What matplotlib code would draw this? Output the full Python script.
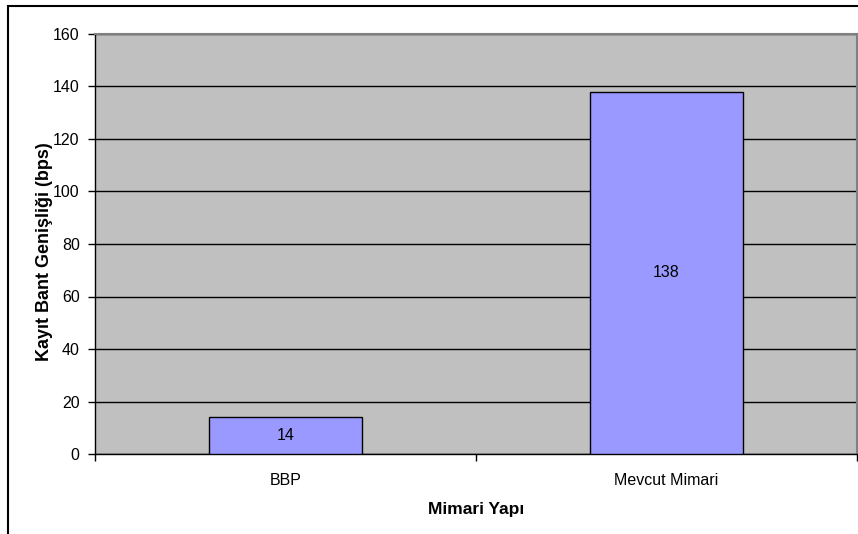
import matplotlib
matplotlib.use("Agg")
import matplotlib.pyplot as plt
from matplotlib.patches import Rectangle

categories = ["BBP", "Mevcut Mimari"]
values = [14, 138]
yticks = [0, 20, 40, 60, 80, 100, 120, 140, 160]

plt.rcParams['font.family'] = ['Liberation Sans', 'DejaVu Sans']

W, H = 858, 534
fig = plt.figure(figsize=(W/100, H/100), dpi=100)
fig.patch.set_facecolor('white')

# figure frame (partially cropped in reference)
fig.add_artist(Rectangle((8/W, -0.1), 1.2, (H-6)/H + 0.1, transform=fig.transFigure,
                         fill=False, edgecolor='black', linewidth=1.5))

left, right, top, bottom = 95, 857, 34, 454
ax = fig.add_axes([left/W, 1-bottom/H, (right-left)/W, (bottom-top)/H])
ax.set_facecolor('#C0C0C0')

x = list(range(len(categories)))
bars = ax.bar(x, values, width=0.4, color='#9999FF', edgecolor='black', linewidth=1, zorder=3)
for xi, v in zip(x, values):
    ax.text(xi, v/2, str(v), ha='center', va='center', fontsize=11.5, zorder=4)

ax.set_xlim(-0.5, len(categories)-0.5)
ax.set_ylim(0, 160)
ax.set_yticks(yticks)
ax.yaxis.grid(True, color='black', linewidth=1, zorder=1)
ax.set_axisbelow(True)

ax.set_xticks([i - 0.5 for i in range(len(categories)+1)], minor=False)
ax.set_xticklabels([])
ax.set_xticks(x, minor=True)
ax.set_xticklabels(categories, minor=True, fontsize=11.5)
ax.tick_params(axis='x', which='minor', length=0, pad=14)
ax.tick_params(axis='x', which='major', direction='out', length=5, width=1)
ax.tick_params(axis='y', direction='out', length=5, width=1, labelsize=11.5, pad=6)

for s in ['left', 'bottom']:
    ax.spines[s].set_color('black')
    ax.spines[s].set_linewidth(1)
for s in ['top', 'right']:
    ax.spines[s].set_color('#808080')
    ax.spines[s].set_linewidth(1.5)

ax.set_xlabel('Mimari Yapı', fontsize=12.5, fontweight='bold', labelpad=10)
ax.set_ylabel('Kayıt Bant Genişliği (bps)', fontsize=13, fontweight='bold', labelpad=0)
ax.yaxis.label.set_y(0.481)

fig.savefig('out.png', dpi=100)
